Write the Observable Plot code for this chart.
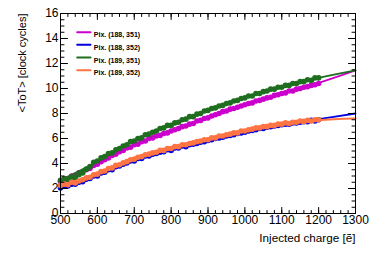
<!DOCTYPE html>
<html>
<head>
<meta charset="utf-8">
<script src="https://cdn.jsdelivr.net/npm/d3@7"></script>
<script src="https://cdn.jsdelivr.net/npm/@observablehq/plot@0.6"></script>
<style>
  html, body { margin: 0; padding: 0; background: #fff; }
  svg { display: block; }
</style>
</head>
<body>
<div id="chart"></div>
<script>
// ---- data ----
const seriesNames = ["Pix. (188, 351)", "Pix. (188, 352)", "Pix. (189, 351)", "Pix. (189, 352)"];
const seriesColors = ["#cc00cc", "#0000dd", "#1f6e1f", "#ff7443"];

const charges = [500,510,520,530,540,550,560,570,580,590,600,610,620,630,640,650,660,670,680,690,
  700,710,720,730,740,750,760,770,780,790,800,810,820,830,840,850,860,870,880,890,
  900,910,920,930,940,950,960,970,980,990,1000,1010,1020,1030,1040,1050,1060,1070,1080,1090,
  1100,1110,1120,1130,1140,1150,1160,1170,1180,1190,1200];

const tot_188_351 = [2.55,2.75,2.80,3.00,3.05,3.25,3.30,3.50,3.60,3.85,3.95,4.15,4.30,4.45,4.65,4.75,4.95,5.05,5.25,5.30,
  5.50,5.55,5.75,5.80,6.00,6.05,6.20,6.25,6.40,6.45,6.60,6.70,6.80,6.95,7.00,7.15,7.20,7.40,7.45,7.60,
  7.65,7.80,7.90,8.00,8.15,8.20,8.35,8.40,8.50,8.60,8.70,8.80,8.85,9.00,9.05,9.15,9.25,9.30,9.45,9.50,
  9.60,9.65,9.80,9.80,9.95,10.00,10.10,10.15,10.25,10.30,10.40];
const tot_188_352 = [2.05,2.20,2.20,2.35,2.35,2.50,2.55,2.75,2.80,3.00,3.00,3.25,3.30,3.50,3.50,3.75,3.80,3.95,4.05,4.20,
  4.20,4.40,4.40,4.60,4.60,4.75,4.80,4.90,4.95,5.10,5.05,5.25,5.25,5.40,5.35,5.50,5.55,5.60,5.70,5.75,
  5.85,5.90,6.00,6.05,6.10,6.20,6.25,6.30,6.40,6.45,6.50,6.60,6.65,6.70,6.80,6.80,6.90,6.95,7.00,7.05,
  7.10,7.15,7.15,7.25,7.25,7.30,7.35,7.35,7.45,7.40,7.50];
const tot_189_351 = [2.65,2.80,2.70,2.90,2.85,3.10,3.25,3.55,3.75,4.10,4.20,4.45,4.55,4.80,4.85,5.10,5.20,5.40,5.50,5.75,
  5.80,6.00,6.05,6.30,6.35,6.50,6.60,6.80,6.85,7.05,7.05,7.25,7.30,7.50,7.55,7.75,7.75,7.95,8.00,8.20,
  8.25,8.40,8.45,8.60,8.65,8.80,8.85,9.00,9.05,9.20,9.25,9.40,9.40,9.60,9.60,9.75,9.80,9.95,9.95,10.10,
  10.10,10.25,10.25,10.40,10.40,10.55,10.55,10.70,10.65,10.85,10.85];
const tot_189_352 = [2.25,2.35,2.30,2.50,2.45,2.60,2.70,2.85,2.90,3.10,3.15,3.35,3.40,3.60,3.65,3.85,3.90,4.05,4.15,4.30,
  4.35,4.50,4.55,4.70,4.75,4.85,4.90,5.05,5.05,5.20,5.20,5.35,5.35,5.50,5.50,5.60,5.65,5.75,5.80,5.90,
  5.90,6.05,6.05,6.20,6.20,6.30,6.35,6.45,6.45,6.60,6.60,6.70,6.75,6.85,6.85,6.95,6.95,7.05,7.05,7.15,
  7.15,7.25,7.20,7.30,7.30,7.40,7.35,7.45,7.40,7.50,7.50];

// fit curves
const fitCharges = [500,600,700,800,900,1000,1100,1200,1300];
const fit_188_351 = [2.60,3.95,5.45,6.60,7.70,8.70,9.60,10.45,11.45];
const fit_188_352 = [2.10,3.05,4.25,5.10,5.85,6.55,7.10,7.55,8.00];
const fit_189_351 = [2.65,4.15,5.85,7.10,8.30,9.30,10.15,10.85,11.45];
const fit_189_352 = [2.25,3.20,4.40,5.20,5.95,6.65,7.15,7.47,7.60];

const xTicks = [500,600,700,800,900,1000,1100,1200,1300];
const yTicks = [0,2,4,6,8,10,12,14,16];
const xMinorTicks = d3.range(500, 1301, 20);
const yMinorTicks = d3.range(0, 16.01, 0.5);

// ---- build ----
const pointSets = [tot_188_351, tot_188_352, tot_189_351, tot_189_352];
const fitSets = [fit_188_351, fit_188_352, fit_189_351, fit_189_352];
const font = "'Liberation Sans', Arial, Helvetica, sans-serif";
const tickShape = {draw(ctx, l) { ctx.moveTo(0, 0); ctx.lineTo(0, -l); }};

const marks = [];
// draw order: magenta, blue, green, orange
[0, 1, 2, 3].forEach(i => {
  const pts = charges.map((c, j) => ({x: c, y: pointSets[i][j]}));
  const fit = fitCharges.map((c, j) => ({x: c, y: fitSets[i][j]}));
  marks.push(Plot.line(fit, {x: "x", y: "y", stroke: seriesColors[i], strokeWidth: 1.8, curve: "catmull-rom"}));
  marks.push(Plot.dot(pts, {x: "x", y: "y", r: 2.8, fill: seriesColors[i], stroke: "none"}));
});

// frame + inward ticks
marks.push(Plot.frame({stroke: "#000", strokeWidth: 1}));
const tk = (data, ch, anchor, rot, len) => Plot.vector(data, {[ch]: d => d, frameAnchor: anchor, anchor: "start", rotate: rot, length: len, shape: tickShape, stroke: "#000", strokeWidth: 1});
marks.push(tk(xMinorTicks, "x", "bottom", 0, 3));
marks.push(tk(xTicks, "x", "bottom", 0, 6));
marks.push(tk(xMinorTicks, "x", "top", 180, 3));
marks.push(tk(xTicks, "x", "top", 180, 6));
marks.push(tk(yMinorTicks, "y", "left", 90, 3.5));
marks.push(tk(yTicks, "y", "left", 90, 7));
marks.push(tk(yMinorTicks, "y", "right", -90, 3.5));
marks.push(tk(yTicks, "y", "right", -90, 7));

// axis tick labels
marks.push(Plot.axisX(xTicks, {tickSize: 0, tickPadding: 2, fontSize: 12, tickFormat: d3.format("d"), label: null, fill: "#000"}));
marks.push(Plot.axisY(yTicks, {tickSize: 0, tickPadding: 2, fontSize: 12, tickFormat: d3.format("d"), label: null, fill: "#000"}));

// axis titles
marks.push(Plot.text(["Injected charge [ẽ]"], {text: d => d, frameAnchor: "bottom-right", dy: 28, textAnchor: "end", fontSize: 11.7, fill: "#000"}));
marks.push(Plot.text(["<ToT> [clock cycles]"], {text: d => d, frameAnchor: "top-left", dx: -42, dy: 0, rotate: -90, textAnchor: "end", fontSize: 11, fill: "#000"}));

// legend
seriesNames.forEach((name, i) => {
  const dy = 18.7 + i * 12.67;
  marks.push(Plot.vector([name], {frameAnchor: "top-left", dx: 16.7, dy, anchor: "start", rotate: 90, length: 13.3, shape: tickShape, stroke: seriesColors[i], strokeWidth: 2}));
  marks.push(Plot.text([name], {text: d => d, frameAnchor: "top-left", dx: 33.3, dy, textAnchor: "start", fontSize: 7, fontWeight: "bold", fill: "#000"}));
});

const chart = Plot.plot({
  width: 374,
  height: 254,
  marginLeft: 60,
  marginRight: 19,
  marginTop: 13,
  marginBottom: 41,
  style: {fontFamily: font, background: "#fff", overflow: "visible"},
  x: {type: "linear", domain: [500, 1300]},
  y: {type: "linear", domain: [0, 16]},
  marks
});
document.getElementById("chart").appendChild(chart);
</script>
</body>
</html>
